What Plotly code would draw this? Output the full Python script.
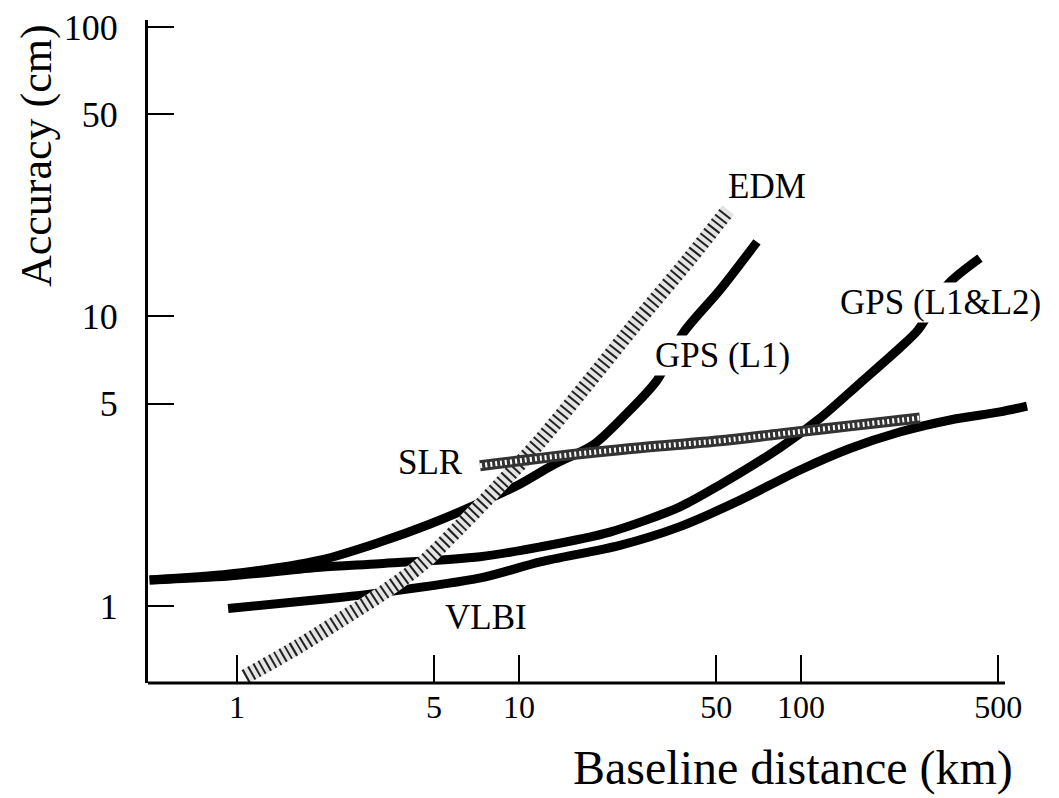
import math
import plotly.graph_objects as go

# ---------------- data ----------------
vlbi_km = [0.93, 2.32, 3.2, 7.3, 11.9, 22.8, 37.2, 60.8, 99.2, 149, 224, 338, 508, 633]
vlbi_cm = [0.98, 1.07, 1.11, 1.25, 1.42, 1.62, 1.88, 2.32, 2.95, 3.5, 3.99, 4.39, 4.68, 4.9]

gps_l1_km = [0.49, 0.94, 1.97, 3.2, 4.84, 7.27, 10.1, 13.2, 18.3, 23.8, 30.9, 38.2, 51.6, 69.8]
gps_l1_cm = [1.23, 1.29, 1.44, 1.66, 1.92, 2.27, 2.64, 3.07, 3.6, 4.57, 6.03, 8.77, 12.35, 18.1]

gps_l12_km = [0.49, 0.94, 1.97, 3.2, 7.27, 11.9, 21.0, 37.2, 51.6, 84.2, 117, 162, 224, 260, 330, 431]
gps_l12_cm = [1.23, 1.27, 1.36, 1.4, 1.48, 1.6, 1.8, 2.2, 2.62, 3.52, 4.46, 5.89, 7.79, 8.98, 12.85, 15.9]

slr_km = [7.27, 14.0, 26.9, 51.6, 84.2, 149, 264]
slr_cm = [3.05, 3.3, 3.52, 3.72, 3.93, 4.19, 4.46]

edm_km = [1.07, 1.67, 2.52, 3.2, 4.46, 6.18, 8.56, 11.9, 17.9, 26.9, 40.4, 55.1]
edm_cm = [0.57, 0.73, 0.94, 1.09, 1.38, 1.88, 2.62, 3.72, 6.03, 9.88, 15.9, 23.3]

x_ticks = [1, 5, 10, 50, 100, 500]
y_ticks = [1, 5, 10, 50, 100]

labels = ["EDM", "GPS (L1)", "GPS (L1&L2)", "SLR", "VLBI"]
label_km = [76, 52.5, 311, 4.84, 7.64]
label_cm = [28.2, 7.36, 11.2, 3.12, 0.916]
label_bg = [None, "white", "white", None, None]

x_title = "Baseline distance (km)"
y_title = "Accuracy (cm)"

# ---------------- figure ----------------
OFF = 8                      # default page margin of the html body
W, H = 1059 - OFF, 798 - OFF
# plot-area edges in window pixels
L, R, T, B = 148, 1032, 20, 683
x_range = [-0.3156, 2.819]
y_range = [-0.266, 2.024]
FONT = "Liberation Serif, Times New Roman, serif"

fig = go.Figure()

def solid(x, y):
    fig.add_trace(go.Scatter(x=x, y=y, mode="lines",
                             line=dict(color="black", width=9, shape="spline", smoothing=0.8),
                             hoverinfo="skip", showlegend=False))

solid(gps_l1_km, gps_l1_cm)
solid(gps_l12_km, gps_l12_cm)
solid(vlbi_km, vlbi_cm)

# EDM: hatched band
fig.add_trace(go.Scatter(x=edm_km, y=edm_cm, mode="lines",
                         line=dict(color="#e4e4e4", width=15, shape="spline", smoothing=0.8),
                         hoverinfo="skip", showlegend=False))
fig.add_trace(go.Scatter(x=edm_km, y=edm_cm, mode="lines",
                         line=dict(color="#222222", width=15, shape="spline", smoothing=0.8, dash="2px,4px"),
                         hoverinfo="skip", showlegend=False))

# SLR: checkered band
fig.add_trace(go.Scatter(x=slr_km, y=slr_cm, mode="lines",
                         line=dict(color="#333333", width=11, shape="spline"),
                         hoverinfo="skip", showlegend=False))
fig.add_trace(go.Scatter(x=slr_km, y=slr_cm, mode="lines",
                         line=dict(color="white", width=5, shape="spline", dash="2px,3px"),
                         hoverinfo="skip", showlegend=False))

for t, xk, yc, bg in zip(labels, label_km, label_cm, label_bg):
    fig.add_annotation(x=math.log10(xk), y=math.log10(yc), text=t, showarrow=False,
                       font=dict(family=FONT, size=35, color="black"),
                       bgcolor=bg if bg else "rgba(0,0,0,0)", borderpad=0)

fig.add_annotation(xref="paper", yref="paper", x=(793 - L) / (R - L), y=-(768 - B) / (B - T),
                   text=x_title, showarrow=False, xanchor="center", yanchor="middle",
                   font=dict(family=FONT, size=48, color="black"))
fig.add_annotation(xref="paper", yref="paper", x=-(L - 36) / (R - L), y=(B - 156) / (B - T),
                   text=y_title, showarrow=False, textangle=-90, xanchor="center", yanchor="middle",
                   font=dict(family=FONT, size=44, color="black"))

# x-axis line (ends at the 500 tick, as in the original)
fig.add_shape(type="line", xref="x domain", yref="y domain", x0=0, x1=(1005 - L) / (R - L),
              y0=0, y1=0, line=dict(color="black", width=3))

fig.update_xaxes(type="log", range=x_range, tickvals=x_ticks, ticktext=[str(v) for v in x_ticks],
                 ticks="inside", ticklen=28, tickwidth=2, tickcolor="black", automargin=False,
                 showline=False, showgrid=False, zeroline=False, ticklabeloverflow="allow",
                 tickfont=dict(family=FONT, size=32, color="black"), ticklabelstandoff=2)
fig.update_yaxes(type="log", range=y_range, tickvals=y_ticks, ticktext=[str(v) for v in y_ticks],
                 ticks="inside", ticklen=26, tickwidth=2, tickcolor="black", automargin=False,
                 showline=True, linewidth=3, linecolor="black", showgrid=False, zeroline=False,
                 ticklabeloverflow="allow",
                 tickfont=dict(family=FONT, size=36, color="black"), ticklabelstandoff=20)

fig.update_layout(width=W, height=H,
                  margin=dict(l=L - OFF, r=(W + OFF) - R, t=T - OFF, b=(H + OFF) - B),
                  paper_bgcolor="white", plot_bgcolor="white", showlegend=False)

fig.write_html("out.html")
